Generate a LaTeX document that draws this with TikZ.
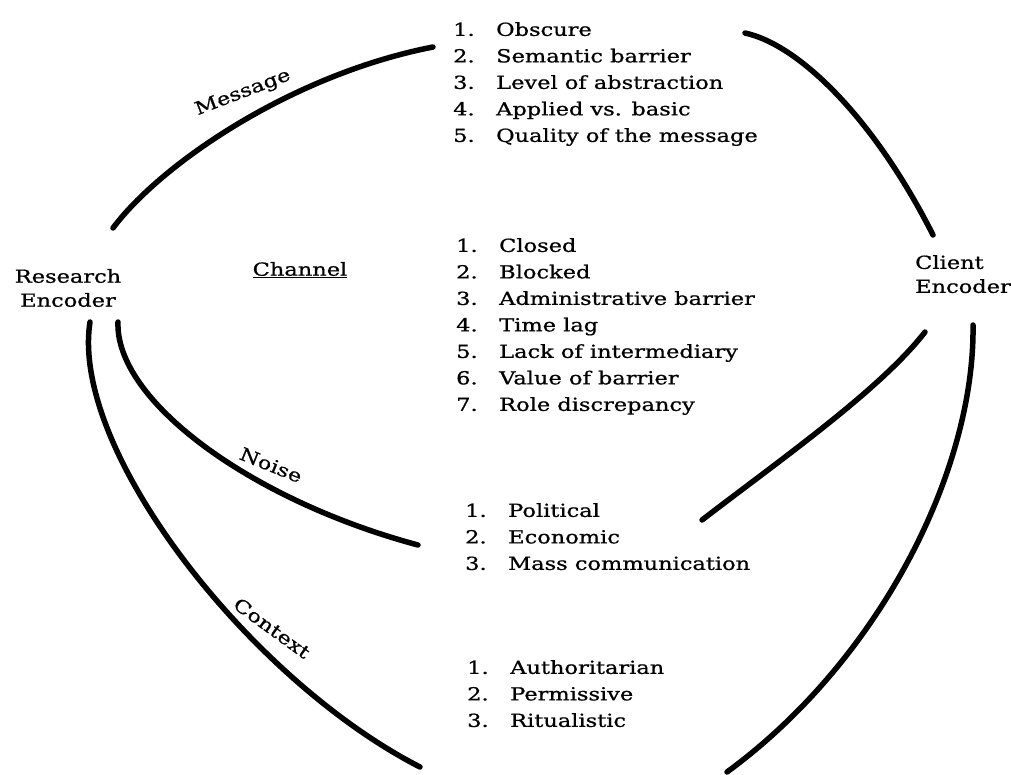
\documentclass[tikz,border=0pt]{standalone}
\usepackage{fontspec}
\setmainfont{DejaVu Serif}[FakeStretch=1.25, FakeBold=0.8]
\usetikzlibrary{positioning}

\newcommand\barrieritem[2]{\makebox[43pt][l]{#1.}#2}

\tikzset{
  band/.style={line width=5.5pt, line cap=round},
  items/.style={anchor=north west, inner sep=0pt, align=left,
    font=\fontsize{18}{26.5}\selectfont},
  lbl/.style={inner sep=0pt, font=\fontsize{18}{24}\selectfont}
}

\begin{document}
\begin{tikzpicture}[x=1pt,y=-1pt]
\useasboundingbox (0,0) rectangle (1011,774);
\node (RE) [lbl, align=center] at (68,288) {Research\\Encoder};
\node (CE) [lbl, align=left, anchor=north west] at (915,255) {Client\\Encoder};
\node (CH) [lbl] at (300,270) {\underline{Channel}};
%Lists:
\node (ML) [items] at (453,22) {\barrieritem{1}{Obscure}\\
  \barrieritem{2}{Semantic barrier}\\
  \barrieritem{3}{Level of abstraction}\\
  \barrieritem{4}{Applied vs. basic}\\
  \barrieritem{5}{Quality of the message}};
\node (CL) [items] at (456,238) {\barrieritem{1}{Closed}\\
  \barrieritem{2}{Blocked}\\
  \barrieritem{3}{Administrative barrier}\\
  \barrieritem{4}{Time lag}\\
  \barrieritem{5}{Lack of intermediary}\\
  \barrieritem{6}{Value of barrier}\\
  \barrieritem{7}{Role discrepancy}};
\node (NL) [items] at (465,503) {\barrieritem{1}{Political}\\
  \barrieritem{2}{Economic}\\
  \barrieritem{3}{Mass communication}};
\node (XL) [items] at (467,660) {\barrieritem{1}{Authoritarian}\\
  \barrieritem{2}{Permissive}\\
  \barrieritem{3}{Ritualistic}};
%Curve ends:
\coordinate (R1) at (113,228);
\coordinate (M1) at (433,47);
\coordinate (M2) at (745,33);
\coordinate (C1) at (933,235);
\coordinate (R2) at (118,322);
\coordinate (N1) at (418,545);
\coordinate (C2) at (925,332);
\coordinate (N2) at (702,520);
\coordinate (R3) at (90,322);
\coordinate (X1) at (420,767);
\coordinate (C3) at (973,325);
\coordinate (X2) at (727,772);
%Curves:
\draw [band] (R1) .. controls (160,165) and (290,75) .. (M1);
\draw [band] (M2) .. controls (800,45) and (875,120) .. (C1);
\draw [band] (R2) .. controls (115,400) and (250,500) .. (N1);
\draw [band] (C2) .. controls (880,390) and (780,460) .. (N2);
\draw [band] (R3) .. controls (70,450) and (250,680) .. (X1);
\draw [band] (C3) .. controls (975,470) and (880,660) .. (X2);
%Curve labels:
\node (MS) [lbl, rotate=21] at (243,93) {Message};
\node (NS) [lbl, rotate=-22] at (271,465) {Noise};
\node (CT) [lbl, rotate=-36] at (272,628) {Context};
\end{tikzpicture}
\end{document}
